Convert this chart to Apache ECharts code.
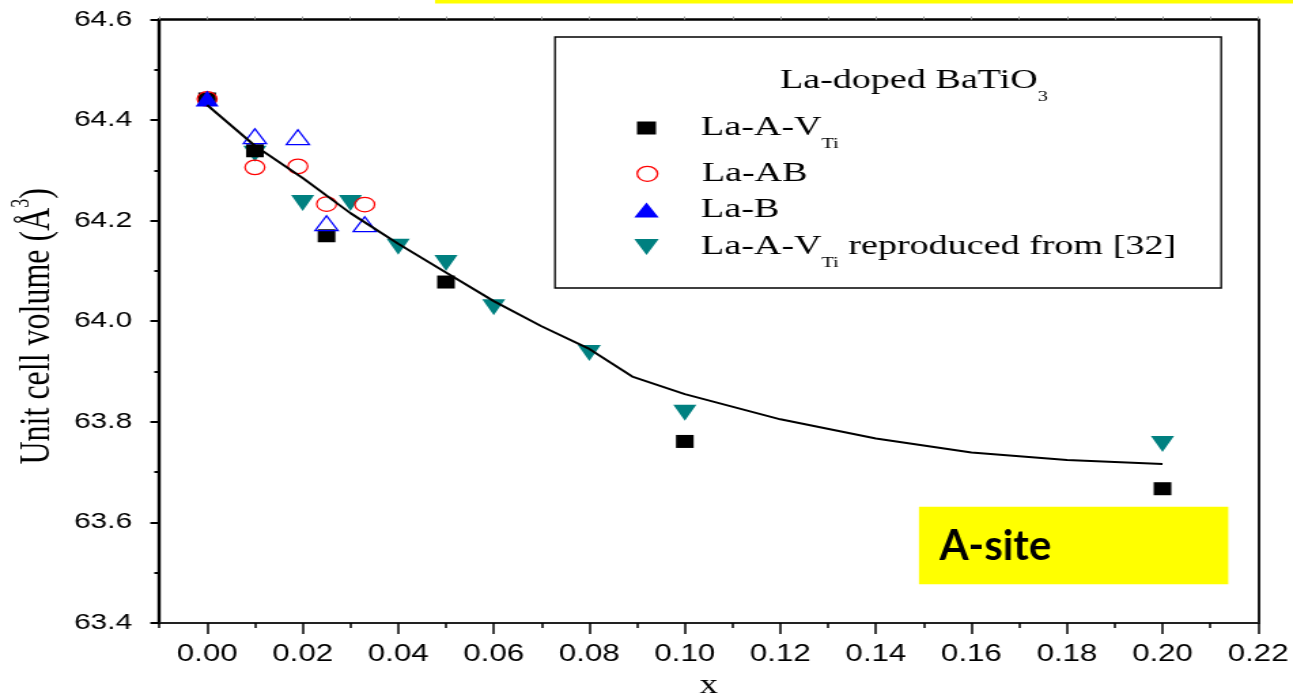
<!DOCTYPE html>
<html>
<head>
<meta charset="utf-8">
<title>La-doped BaTiO3 unit cell volume</title>
<script src="https://cdn.jsdelivr.net/npm/echarts@6/dist/echarts.min.js"></script>
<style>
  html, body { margin: 0; padding: 0; background: #ffffff; overflow: hidden; }
  /* The plot is laid out on a narrower canvas and widened horizontally. */
  #chart { width: 951px; height: 696px; transform: scaleX(1.3596); transform-origin: 0 0; }
</style>
</head>
<body>
<div id="chart"></div>
<script>
// ---- data -------------------------------------------------------------
// La-A-V_Ti (this work)
const laAVTiX = [0, 0.01, 0.025, 0.05, 0.10, 0.20];
const laAVTiV = [64.442, 64.339, 64.170, 64.078, 63.761, 63.667];

// La-AB
const laABX = [0, 0.01, 0.019, 0.025, 0.033];
const laABV = [64.442, 64.306, 64.308, 64.233, 64.232];

// La-B (filled point at x = 0, open points for the others)
const laBFilledX = [0];
const laBFilledV = [64.443];
const laBOpenX = [0.01, 0.019, 0.025, 0.033];
const laBOpenV = [64.368, 64.366, 64.195, 64.193];

// La-A-V_Ti reproduced from [32]
const ref32X = [0.01, 0.02, 0.03, 0.04, 0.05, 0.06, 0.08, 0.10, 0.20];
const ref32V = [64.333, 64.235, 64.235, 64.148, 64.116, 64.028, 63.937, 63.818, 63.756];

// Guide curve through the La-A-V_Ti trend
const fitX = [0, 0.01, 0.02, 0.03, 0.04, 0.05, 0.06, 0.07, 0.08, 0.089, 0.10, 0.12, 0.14, 0.16, 0.18, 0.20];
const fitV = [64.430, 64.349, 64.285, 64.215, 64.154, 64.097, 64.040, 63.990, 63.945, 63.890, 63.855, 63.805, 63.767, 63.739, 63.724, 63.716];

// Axis ticks
const xTickValues = [0, 0.02, 0.04, 0.06, 0.08, 0.10, 0.12, 0.14, 0.16, 0.18, 0.20, 0.22];
const xMinorTickValues = [-0.01, 0.01, 0.03, 0.05, 0.07, 0.09, 0.11, 0.13, 0.15, 0.17, 0.19, 0.21];
const xTopTickValues = [-0.01, 0, 0.01, 0.02, 0.03, 0.04, 0.05, 0.06, 0.07, 0.08, 0.09, 0.10, 0.11,
  0.12, 0.13, 0.14, 0.15, 0.16, 0.17, 0.18, 0.19, 0.20, 0.21, 0.22];
const yTickValues = [63.4, 63.6, 63.8, 64.0, 64.2, 64.4, 64.6];

// ---- presentation -----------------------------------------------------
const K = 1293 / 951;               // horizontal widening applied by CSS
const SERIF = 'Liberation Serif';
const SANS = 'Liberation Sans';
const TEAL = '#008080';

const pairs = (xs, ys) => xs.map((x, i) => [x, ys[i]]);

const NAME_AV = 'La-A-V_Ti';
const NAME_AB = 'La-AB';
const NAME_B = 'La-B';
const NAME_B_OPEN = 'La-B open';
const NAME_REF = 'La-A-V_Ti reproduced from [32]';
const NAME_FIT = 'trend';

const legendText = {
  [NAME_AV]: '{n|La-A-V}{s|Ti}',
  [NAME_AB]: '{p|La-AB}',
  [NAME_B]: '{p|La-B}',
  [NAME_REF]: '{n|La-A-V}{s|Ti}{n| reproduced from [32]}'
};

function richFor(gap) {
  return {
    g: { width: gap, fontSize: 10 },
    n: { fontFamily: SERIF, fontSize: 28, lineHeight: 48, color: '#000' },
    p: { fontFamily: SERIF, fontSize: 28, lineHeight: 30, color: '#000' },
    s: { fontFamily: SERIF, fontSize: 15, lineHeight: 15, verticalAlign: 'bottom', color: '#000' }
  };
}

// one legend block per entry, so each row sits at its own height
function legendRow(name, icon, w, h, top, extra) {
  const iconCenterX = 475.5;
  const textLeft = 515.6;
  const left = iconCenterX - w / 2;
  const gap = textLeft - (left + w + 5);
  return Object.assign({
    show: true,
    data: [{ name: name, icon: icon }],
    left: left,
    top: top,
    orient: 'vertical',
    padding: 0,
    itemWidth: w,
    itemHeight: h,
    symbolKeepAspect: false,
    selectedMode: false,
    formatter: (nm) => '{g| }' + legendText[nm],
    textStyle: { color: '#000', fontFamily: SERIF, fontSize: 28, rich: richFor(gap) }
  }, extra || {});
}

const chart = echarts.init(document.getElementById('chart'), null, { renderer: 'canvas' });

const xMin = -0.01, xMax = 0.22;
const yMin = yTickValues[0], yMax = yTickValues[yTickValues.length - 1];

const option = {
  animation: false,
  backgroundColor: '#ffffff',
  grid: {
    left: 117.2, right: 25.7, top: 19.5, bottom: 73,
    containLabel: false, outerBoundsMode: 'none'
  },
  legend: [
    legendRow(NAME_AV, 'rect', 14, 13, 114),
    legendRow(NAME_AB, 'circle', 15, 15, 159.8, { itemStyle: { borderWidth: 1.3 } }),
    legendRow(NAME_B, 'triangle', 18, 15, 196),
    legendRow(NAME_REF, 'path://M0,0L20,0L10,18Z', 18, 16, 233)
  ],
  xAxis: [
    {
      type: 'value', min: xMin, max: xMax, position: 'bottom',
      axisLine: { show: true, onZero: false, lineStyle: { color: '#222', width: 2 } },
      axisTick: { show: true, customValues: xTickValues, length: 11, lineStyle: { color: '#000', width: 1.5 } },
      axisLabel: {
        customValues: xTickValues, formatter: (v) => v.toFixed(2), margin: 20,
        fontFamily: SANS, fontSize: 23, color: '#000'
      },
      splitLine: { show: false },
      name: 'x', nameLocation: 'middle', nameGap: 49,
      nameTextStyle: { fontFamily: SERIF, fontSize: 27, color: '#000' }
    },
    {
      type: 'value', min: xMin, max: xMax, position: 'bottom',
      axisLine: { show: false, onZero: false },
      axisTick: { show: true, customValues: xMinorTickValues, length: 5, lineStyle: { color: '#000', width: 1.5 } },
      axisLabel: { show: false },
      splitLine: { show: false }
    },
    {
      type: 'value', min: xMin, max: xMax, position: 'top',
      axisLine: { show: true, onZero: false, lineStyle: { color: '#000', width: 2.5 } },
      axisTick: { show: true, customValues: xTopTickValues, length: 3, lineStyle: { color: '#999', width: 1 } },
      axisLabel: { show: false },
      splitLine: { show: false }
    }
  ],
  yAxis: [
    {
      type: 'value', min: yMin, max: yMax, position: 'left',
      axisLine: { show: true, onZero: false, lineStyle: { color: '#000', width: 2.4 } },
      axisTick: { show: true, customValues: yTickValues, length: 6.6, lineStyle: { color: '#000', width: 2 } },
      minorTick: { show: true, splitNumber: 2, length: 3.7, lineStyle: { color: '#000', width: 2 } },
      interval: 0.2,
      axisLabel: {
        customValues: yTickValues, formatter: (v) => v.toFixed(1), margin: 20,
        fontFamily: SANS, fontSize: 22, color: '#000'
      },
      splitLine: { show: false },
      minorSplitLine: { show: false },
      name: '{a|Unit cell volume (Å}{s|3}{a|)}',
      nameLocation: 'middle', nameGap: 65,
      nameTextStyle: {
        fontFamily: SERIF, fontSize: 32, color: '#000',
        padding: [0, 10, 0, 0],
        rich: {
          a: { fontFamily: SERIF, fontSize: 32, lineHeight: 40, color: '#000' },
          s: { fontFamily: SERIF, fontSize: 18, lineHeight: 18, verticalAlign: 'top', color: '#000' }
        }
      }
    },
    {
      type: 'value', min: yMin, max: yMax, position: 'right',
      axisLine: { show: true, onZero: false, lineStyle: { color: '#000', width: 1.8 } },
      axisTick: { show: false },
      axisLabel: { show: false },
      splitLine: { show: false }
    }
  ],
  series: [
    {
      name: NAME_REF, type: 'scatter', data: pairs(ref32X, ref32V),
      symbol: 'triangle', symbolRotate: 180, symbolSize: [17, 16],
      itemStyle: { color: TEAL, opacity: 1 }, z: 2
    },
    {
      name: NAME_AV, type: 'scatter', data: pairs(laAVTiX, laAVTiV),
      symbol: 'rect', symbolSize: [13, 13],
      itemStyle: { color: '#000', opacity: 1 }, z: 3
    },
    {
      name: NAME_AB, type: 'scatter', data: pairs(laABX, laABV),
      symbol: 'circle', symbolSize: 14.5,
      itemStyle: { color: 'rgba(255,255,255,0)', borderColor: '#ff0000', borderWidth: 1.2, opacity: 1 }, z: 4
    },
    {
      name: NAME_B_OPEN, type: 'scatter', data: pairs(laBOpenX, laBOpenV),
      symbol: 'triangle', symbolSize: [17, 15],
      itemStyle: { color: 'rgba(255,255,255,0)', borderColor: '#0000ff', borderWidth: 1.2, opacity: 1 }, z: 5
    },
    {
      name: NAME_B, type: 'scatter', data: pairs(laBFilledX, laBFilledV),
      symbol: 'triangle', symbolSize: [17, 16],
      itemStyle: { color: '#0000ff', opacity: 1 }, z: 6
    },
    {
      name: NAME_FIT, type: 'line', data: pairs(fitX, fitV),
      symbol: 'none', showSymbol: false, smooth: false,
      lineStyle: { color: '#000', width: 2 }, z: 7, silent: true
    }
  ],
  graphic: [
    // yellow strip along the top edge
    { type: 'rect', silent: true, shape: { x: 320, y: -5, width: 631, height: 8.5 }, style: { fill: '#ffff00' } },
    // legend frame and heading
    { type: 'rect', silent: true, shape: { x: 408.2, y: 37, width: 490, height: 251 },
      style: { fill: 'none', stroke: '#000', lineWidth: 1.3 } },
    { type: 'text', silent: true, x: 573.7, y: 57,
      style: { text: '{n|La-doped BaTiO}{s|3}', rich: richFor(0), verticalAlign: 'top', fill: '#000' } },
    // "A-site" tag
    { type: 'rect', silent: true, shape: { x: 675.9, y: 506.7, width: 227.5, height: 77.6 }, style: { fill: '#ffff00' } },
    { type: 'text', silent: true, x: 690.9, y: 546, scaleX: 1 / K,
      style: { text: 'A-site', fontFamily: 'Lato', fontWeight: 'bold', fontSize: 42, fill: '#000', verticalAlign: 'middle' } }
  ]
};

chart.setOption(option);
</script>
</body>
</html>
